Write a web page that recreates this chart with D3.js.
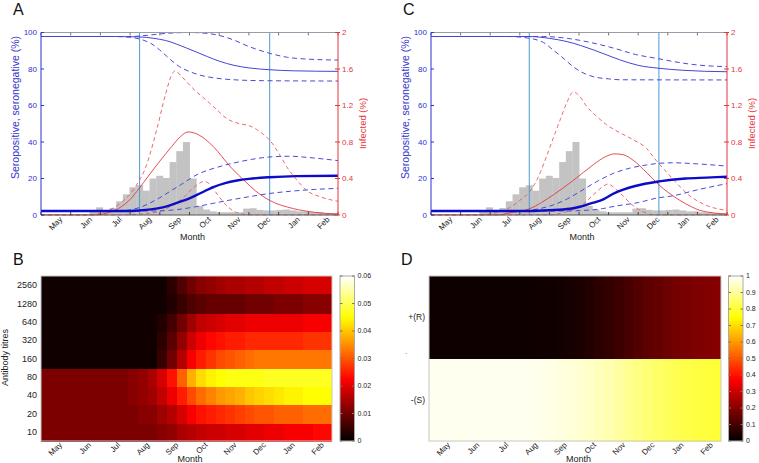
<!DOCTYPE html>
<html><head><meta charset="utf-8">
<script src="https://cdn.jsdelivr.net/npm/d3@7"></script>
<style>body{margin:0;background:#fff} text{font-family:"Liberation Sans",Arial,sans-serif}</style>
</head><body><svg id="c" width="759" height="463"></svg>
<script>
// ---------- DATA ----------
const months = ["May","Jun","Jul","Aug","Sep","Oct","Nov","Dec","Jan","Feb"];
const leftTicks = [0,20,40,60,80,100];
const rightTicks = [0,0.4,0.8,1.2,1.6,2];
const titreLabels = ["10","20","40","80","160","320","640","1280","2560"];
const cbTicksB = [0,0.01,0.02,0.03,0.04,0.05,0.06];
const cbTicksD = [0,0.1,0.2,0.3,0.4,0.5,0.6,0.7,0.8,0.9,1];
const serostatusLabels = ["-(S)","+(R)"];

// weekly reported cases (same scale as left axis), first week starts 1.63 months after 1 May
const caseFirstWeek = 1.63;
const weekLen = 0.225;
const weeklyCases = [2.5,4.2,2.5,3.8,7.5,11.3,15.2,16.3,13.3,20,21.5,20.3,29,35,40,20,5,3,2,1.5,1.5,1.5,1.5,3.5,3.7,2.8,2.5,2.5,2.8,3,2.5,2,2,1.5,1.5,1,1];

// sampling dates (months after 1 May)
const sampleDates = [3.32, 7.7];

// Panel A curves: [month, value]
const A_neg   = [[0,97.8],[2.5,97.8],[3.3,97.6],[3.8,96.8],[4.2,95.6],[4.9,91.5],[5.6,86.8],[6.0,84.3],[6.5,82.0],[7.0,80.6],[7.7,79.6],[8.5,79.0],[10,78.7]];
const A_negHi = [[0,97.8],[3.0,97.8],[3.6,98.5],[4.2,99.5],[5.0,100],[5.6,99.5],[6.2,97.5],[6.5,95.8],[7.0,92.3],[7.7,88.6],[8.3,86.4],[9.0,85.4],[10,84.9]];
const A_negLo = [[0,97.8],[2.5,97.8],[3.0,97.4],[3.3,96.5],[3.7,94],[4.0,90.4],[4.3,86],[4.66,81.3],[5.0,78.6],[5.34,76.7],[5.8,75.2],[6.5,74.1],[7.5,73.6],[10,73.4]];
const A_pos   = [[0,2.2],[2.8,2.2],[3.3,2.5],[3.7,3.1],[4.1,4.2],[4.6,6.8],[5.0,9.1],[5.4,12.2],[5.8,15.3],[6.2,17.5],[6.6,18.9],[7.0,19.8],[7.7,20.7],[8.6,21.3],[10,21.5]];
const A_posHi = [[0,2.2],[2.6,2.2],[3.0,2.8],[3.3,4],[3.6,6],[4.0,9.5],[4.4,13.5],[4.7,16.5],[5.3,22.5],[5.9,26],[6.5,28.5],[7.1,30.5],[7.7,31.8],[8.4,32.2],[9.0,31.5],[10,29.8]];
const A_posLo = [[0,2.2],[3.8,2.2],[4.6,3.0],[5.2,4.5],[5.8,6.4],[6.4,8.3],[7.0,10.0],[7.7,11.8],[8.4,13.0],[9.2,14.0],[10,14.6]];
const A_inf   = [[0,0],[1.8,0],[2.2,0.02],[2.6,0.07],[3.0,0.17],[3.3,0.29],[3.6,0.42],[4.0,0.59],[4.4,0.75],[4.7,0.86],[4.95,0.91],[5.3,0.88],[5.8,0.75],[6.4,0.52],[6.9,0.36],[7.2,0.27],[7.7,0.16],[8.5,0.07],[9.2,0.03],[10,0.01]];
const A_infHi = [[0,0],[1.7,0],[2.0,0.02],[2.4,0.07],[2.75,0.15],[3.05,0.25],[3.31,0.38],[3.5,0.5],[3.7,0.7],[3.9,0.94],[4.2,1.33],[4.38,1.52],[4.52,1.58],[4.7,1.53],[4.9,1.46],[5.2,1.36],[5.56,1.26],[5.9,1.16],[6.24,1.06],[6.69,1.0],[7.0,0.98],[7.25,0.94],[7.5,0.88],[7.7,0.82],[8.0,0.68],[8.27,0.53],[8.6,0.39],[8.94,0.27],[9.4,0.2],[10,0.15]];
const A_infLo = [[0,0],[2.8,0],[3.5,0.015],[4.0,0.04],[4.4,0.1],[4.8,0.19],[5.1,0.29],[5.35,0.35],[5.5,0.37],[5.7,0.33],[5.95,0.22],[6.2,0.12],[6.5,0.04],[6.9,0.005],[7.2,0],[10,0]];

// Panel C curves
const C_neg   = [[0,97.8],[3.3,97.8],[4.0,96.8],[4.6,95],[5.5,90.4],[6.4,84.9],[7.0,82.0],[7.7,80.4],[8.5,79.3],[10,78.5]];
const C_negHi = [[0,97.8],[3.8,97.8],[4.6,96.8],[5.4,94.5],[6.2,91.3],[6.9,88.0],[7.7,85.6],[8.4,83.5],[9.0,82.2],[10,81.3]];
const C_negLo = [[0,97.8],[2.6,97.8],[3.34,96.8],[3.8,94.5],[4.13,90.4],[4.5,85.5],[4.8,81.3],[5.1,78.2],[5.48,75.8],[6.0,74.6],[6.4,74.1],[10,74]];
const C_pos   = [[0,2.2],[3.3,2.2],[4.0,2.6],[4.7,3.4],[5.03,4.5],[5.5,6.8],[5.82,8.6],[6.2,12],[6.9,15.9],[7.7,18.4],[8.6,20],[9.3,20.5],[10,21]];
const C_posHi = [[0,2.2],[3.0,2.2],[3.34,2.6],[3.7,3.6],[4.13,5.5],[4.6,8.8],[5.03,12.8],[5.6,18.3],[6.16,22.8],[6.7,25.6],[7.28,27.4],[7.7,28.3],[8.18,28.6],[9.0,28],[10,26.8]];
const C_posLo = [[0,2.2],[4.6,2.2],[5.0,2.4],[5.8,3.5],[6.2,4.8],[7.0,6.8],[7.7,9.5],[8.1,10.3],[9.0,13.8],[10,17.2]];
const C_inf   = [[0,0],[2.3,0],[2.6,0.02],[3.34,0.07],[4.13,0.22],[4.81,0.38],[5.48,0.55],[5.9,0.64],[6.21,0.67],[6.5,0.66],[6.83,0.6],[7.3,0.46],[7.7,0.33],[8.0,0.25],[8.41,0.16],[8.8,0.09],[9.09,0.05],[10,0.01]];
const C_infHi = [[0,0],[1.8,0],[2.1,0.02],[2.6,0.07],[3.0,0.16],[3.34,0.26],[3.6,0.4],[3.9,0.64],[4.15,0.86],[4.36,1.04],[4.6,1.24],[4.81,1.35],[5.0,1.31],[5.26,1.19],[5.6,1.08],[5.93,0.99],[6.39,0.9],[6.8,0.83],[7.28,0.73],[7.6,0.6],[7.96,0.47],[8.3,0.35],[8.63,0.24],[9.2,0.12],[10,0.05]];
const C_infLo = [[0,0],[4.0,0],[4.5,0.03],[5.03,0.09],[5.48,0.22],[5.8,0.31],[5.98,0.34],[6.15,0.31],[6.39,0.24],[6.8,0.11],[7.28,0.02],[7.6,0],[10,0]];

// Panel B: titre distribution, 30 columns (thirds of months), rows by titre
const B_10   = [0.011,0.011,0.011,0.011,0.011,0.011,0.011,0.011,0.011,0.011,0.011,0.011,0.012,0.013,0.015,0.016,0.017,0.018,0.018,0.019,0.019,0.020,0.020,0.021,0.021,0.022,0.022,0.022,0.023,0.023];
const B_20   = [0.011,0.011,0.011,0.011,0.011,0.011,0.011,0.011,0.011,0.011,0.012,0.012,0.014,0.016,0.019,0.022,0.024,0.025,0.026,0.027,0.028,0.029,0.030,0.030,0.031,0.031,0.031,0.032,0.032,0.032];
const B_40   = [0.011,0.011,0.011,0.011,0.011,0.011,0.011,0.011,0.011,0.012,0.013,0.014,0.017,0.021,0.025,0.029,0.032,0.034,0.036,0.037,0.038,0.040,0.041,0.042,0.043,0.044,0.044,0.045,0.045,0.045];
const B_80   = [0.011,0.011,0.011,0.011,0.011,0.011,0.011,0.011,0.011,0.012,0.013,0.015,0.019,0.024,0.031,0.038,0.042,0.044,0.045,0.046,0.046,0.046,0.046,0.047,0.047,0.047,0.047,0.047,0.047,0.047];
const B_160  = [0.0015,0.0015,0.0015,0.0015,0.0015,0.0015,0.0015,0.0015,0.0015,0.0015,0.0015,0.0015,0.005,0.010,0.016,0.022,0.025,0.027,0.029,0.030,0.031,0.032,0.033,0.033,0.033,0.033,0.033,0.033,0.033,0.033];
const B_320  = [0.0015,0.0015,0.0015,0.0015,0.0015,0.0015,0.0015,0.0015,0.0015,0.0015,0.0015,0.0015,0.004,0.008,0.013,0.018,0.021,0.023,0.024,0.025,0.025,0.026,0.026,0.026,0.026,0.026,0.026,0.027,0.027,0.027];
const B_640  = [0.0015,0.0015,0.0015,0.0015,0.0015,0.0015,0.0015,0.0015,0.0015,0.0015,0.0015,0.0015,0.003,0.006,0.010,0.014,0.017,0.018,0.019,0.020,0.020,0.021,0.021,0.021,0.021,0.021,0.021,0.022,0.022,0.022];
const B_1280 = [0.0015,0.0015,0.0015,0.0015,0.0015,0.0015,0.0015,0.0015,0.0015,0.0015,0.0015,0.0015,0.0015,0.003,0.005,0.007,0.008,0.009,0.009,0.009,0.009,0.010,0.010,0.010,0.011,0.011,0.011,0.012,0.012,0.012];
const B_2560 = [0.0015,0.0015,0.0015,0.0015,0.0015,0.0015,0.0015,0.0015,0.0015,0.0015,0.0015,0.0015,0.0015,0.004,0.007,0.010,0.012,0.013,0.014,0.015,0.015,0.016,0.016,0.017,0.017,0.018,0.018,0.019,0.019,0.019];

// Panel D: proportion seropositive (R) and seronegative (S), 30 columns
const D_pos = [0.022,0.022,0.022,0.022,0.022,0.022,0.022,0.022,0.022,0.022,0.022,0.023,0.025,0.028,0.033,0.040,0.050,0.062,0.075,0.090,0.105,0.120,0.135,0.148,0.160,0.170,0.178,0.185,0.190,0.195];
const D_neg = [0.985,0.985,0.985,0.985,0.985,0.985,0.985,0.985,0.985,0.984,0.982,0.979,0.975,0.970,0.963,0.955,0.945,0.934,0.922,0.908,0.893,0.878,0.864,0.851,0.840,0.830,0.822,0.815,0.810,0.805];

// ---------- DRAWING ----------
const svg = d3.select("#c");
const BLUE = "#2f2fd0", RED = "#e5353a", VL = "#4b9cd0";

function hot(t){
  t = Math.max(0, Math.min(1, t));
  const r = Math.min(1, t/0.375), g = Math.max(0, Math.min(1, (t-0.375)/0.375)), b = Math.max(0, Math.min(1,(t-0.75)/0.25));
  return d3.rgb(r*255, g*255, b*255).toString();
}

function topPanel(letter, x0, x1, cv, clipId){
  const yTop = 32.5, yBot = 215;
  const x = d3.scaleLinear().domain([0,10]).range([x0,x1]);
  const yL = d3.scaleLinear().domain([0,100]).range([yBot,yTop]);
  const yR = d3.scaleLinear().domain([0,2]).range([yBot,yTop]);
  const g = svg.append("g");
  svg.append("clipPath").attr("id",clipId).append("rect").attr("x",x0).attr("y",yTop-1).attr("width",x1-x0).attr("height",yBot-yTop+1.5);
  const pg = g.append("g").attr("clip-path",`url(#${clipId})`);
  pg.selectAll("rect.bar").data(weeklyCases).join("rect")
    .attr("x",(d,i)=>x(caseFirstWeek+i*weekLen))
    .attr("width",x(weekLen)-x(0)+0.3)
    .attr("y",d=>yL(d)).attr("height",d=>yBot-yL(d))
    .attr("fill","#c3c3c3");
  g.append("line").attr("x1",x0).attr("x2",x1).attr("y1",yTop).attr("y2",yTop).attr("stroke","#9a9aa8").attr("stroke-width",1);
  g.append("line").attr("x1",x0).attr("x2",x1).attr("y1",yBot).attr("y2",yBot).attr("stroke","#555").attr("stroke-width",1);
  d3.range(0,11).forEach(m=>{
    g.append("line").attr("x1",x(m)).attr("x2",x(m)).attr("y1",yBot).attr("y2",yBot-3).attr("stroke","#444");
    g.append("line").attr("x1",x(m)).attr("x2",x(m)).attr("y1",yTop).attr("y2",yTop+3).attr("stroke","#777");
  });
  sampleDates.forEach(d=>{
    pg.append("line").attr("x1",x(d)).attr("x2",x(d)).attr("y1",yTop).attr("y2",yBot).attr("stroke",VL).attr("stroke-width",1);
  });
  const lineL = d3.line().x(d=>x(d[0])).y(d=>yL(d[1])).curve(d3.curveMonotoneX);
  const lineR = d3.line().x(d=>x(d[0])).y(d=>yR(d[1])).curve(d3.curveMonotoneX);
  const dashB = "5,3.5", dashR = "4,3";
  pg.append("path").attr("d",lineR(cv.infHi)).attr("fill","none").attr("stroke","#e85a5e").attr("stroke-width",0.9).attr("stroke-dasharray",dashR);
  pg.append("path").attr("d",lineR(cv.infLo)).attr("fill","none").attr("stroke","#e85a5e").attr("stroke-width",0.9).attr("stroke-dasharray",dashR);
  pg.append("path").attr("d",lineR(cv.inf)).attr("fill","none").attr("stroke","#e23a3f").attr("stroke-width",0.9);
  [cv.negHi,cv.negLo,cv.posHi,cv.posLo].forEach(s=>{
    pg.append("path").attr("d",lineL(s)).attr("fill","none").attr("stroke","#4a4ad8").attr("stroke-width",1).attr("stroke-dasharray",dashB);
  });
  pg.append("path").attr("d",lineL(cv.neg)).attr("fill","none").attr("stroke","#4444d6").attr("stroke-width",1);
  pg.append("path").attr("d",lineL(cv.pos)).attr("fill","none").attr("stroke","#0c0cc8").attr("stroke-width",2.4);
  g.append("line").attr("x1",x0).attr("x2",x0).attr("y1",yTop).attr("y2",yBot).attr("stroke",BLUE).attr("stroke-width",1);
  leftTicks.forEach(t=>{
    g.append("line").attr("x1",x0).attr("x2",x0+3).attr("y1",yL(t)).attr("y2",yL(t)).attr("stroke",BLUE);
    g.append("text").attr("x",x0-4).attr("y",yL(t)).attr("dy","0.35em").attr("text-anchor","end").attr("font-size",8).attr("fill",BLUE).text(t);
  });
  g.append("line").attr("x1",x1).attr("x2",x1).attr("y1",yTop).attr("y2",yBot).attr("stroke",RED).attr("stroke-width",1);
  rightTicks.forEach(t=>{
    g.append("line").attr("x1",x1-3).attr("x2",x1+2).attr("y1",yR(t)).attr("y2",yR(t)).attr("stroke",RED);
    g.append("text").attr("x",x1+4).attr("y",yR(t)).attr("dy","0.35em").attr("font-size",8).attr("fill",RED).text(t);
  });
  months.forEach((mn,i)=>{
    const ax = x(i+0.5)+5, ay = yBot+3;
    g.append("text").attr("transform",`translate(${ax},${ay}) rotate(-45)`).attr("text-anchor","end").attr("dy","0.35em").attr("font-size",8).attr("fill","#222").text(mn);
  });
  g.append("text").attr("x",(x0+x1)/2+3).attr("y",239.5).attr("text-anchor","middle").attr("font-size",9).attr("fill","#222").text("Month");
  g.append("text").attr("transform",`translate(${x0-22.5},107.5) rotate(-90)`).attr("text-anchor","middle").attr("font-size",10.5).attr("fill","#3535cc").text("Seropositive, seronegative (%)");
  g.append("text").attr("transform",`translate(${x1+28},123.5) rotate(-90)`).attr("text-anchor","middle").attr("font-size",9.5).attr("fill",RED).text("Infected (%)");
  g.append("text").attr("x",x0-28).attr("y",15).attr("font-size",16).attr("fill","#111").text(letter);
}

topPanel("A",41,338,{neg:A_neg,negHi:A_negHi,negLo:A_negLo,pos:A_pos,posHi:A_posHi,posLo:A_posLo,inf:A_inf,infHi:A_infHi,infLo:A_infLo},"clipA");
topPanel("C",431,727,{neg:C_neg,negHi:C_negHi,negLo:C_negLo,pos:C_pos,posHi:C_posHi,posLo:C_posLo,inf:C_inf,infHi:C_infHi,infLo:C_infLo},"clipC");

function heatPanel(letter, x0, x1, rows, rowLabels, vmax, cbX, cbTicks, gradId, labelFont){
  const yTop = 276, yBot = 441;
  const g = svg.append("g");
  const nCol = rows[0].length;
  const x = d3.scaleLinear().domain([0,10]).range([x0,x1]);
  const col = d3.scaleLinear().domain([0,nCol]).range([0,10]);
  const y = d3.scaleBand().domain(d3.range(rows.length)).range([yBot,yTop]);
  const cells = g.append("g").attr("shape-rendering","crispEdges");
  rows.forEach((r,ri)=>{
    cells.selectAll(null).data(r).join("rect")
      .attr("x",(d,ci)=>x(col(ci)))
      .attr("width",(d,ci)=> ci===nCol-1 ? x(col(1))-x(0) : x(col(1))-x(0)+1)
      .attr("y",y(ri)).attr("height",y.bandwidth()+(ri===rows.length-1?0:1))
      .attr("fill",d=>hot(d/vmax));
  });
  g.append("rect").attr("x",x0).attr("y",yTop).attr("width",x1-x0).attr("height",yBot-yTop).attr("fill","none").attr("stroke","#c8c8c8").attr("stroke-width",1);
  rowLabels.forEach((l,ri)=>{
    g.append("text").attr("x",x0-4).attr("y",y(ri)+y.bandwidth()/2).attr("dy","0.35em").attr("text-anchor","end").attr("font-size",labelFont).attr("fill","#222").text(l);
  });
  months.forEach((mn,i)=>{
    const ax = x(i+0.5)+5, ay = yBot+2.5;
    g.append("text").attr("transform",`translate(${ax},${ay}) rotate(-45)`).attr("text-anchor","end").attr("dy","0.35em").attr("font-size",8).attr("fill","#222").text(mn);
  });
  g.append("text").attr("x",(x0+x1)/2+3.5).attr("y",462).attr("text-anchor","middle").attr("font-size",9).attr("fill","#222").text("Month");
  g.append("text").attr("x",x0-28).attr("y",265).attr("font-size",16).attr("fill","#111").text(letter);
  const cbW = 14.5;
  const grad = svg.append("defs").append("linearGradient").attr("id",gradId).attr("x1",0).attr("x2",0).attr("y1",1).attr("y2",0);
  d3.range(0,1.0001,0.02).forEach(t=>grad.append("stop").attr("offset",t).attr("stop-color",hot(t)));
  g.append("rect").attr("x",cbX).attr("y",yTop).attr("width",cbW).attr("height",yBot-yTop).attr("fill",`url(#${gradId})`).attr("stroke","#aaa").attr("stroke-width",1);
  const yc = d3.scaleLinear().domain([0,vmax]).range([yBot,yTop]);
  cbTicks.forEach(t=>{
    g.append("line").attr("x1",cbX+cbW-2.5).attr("x2",cbX+cbW).attr("y1",yc(t)).attr("y2",yc(t)).attr("stroke","#777");
    g.append("line").attr("x1",cbX).attr("x2",cbX+2.5).attr("y1",yc(t)).attr("y2",yc(t)).attr("stroke","#777");
    g.append("text").attr("x",cbX+cbW+3).attr("y",yc(t)).attr("dy","0.35em").attr("font-size",7).attr("fill","#222").text(t);
  });
  return g;
}

heatPanel("B",41,332,[B_10,B_20,B_40,B_80,B_160,B_320,B_640,B_1280,B_2560],titreLabels,0.06,340,cbTicksB,"gradB",9);
svg.append("text").attr("transform","translate(8,357.5) rotate(-90)").attr("text-anchor","middle").attr("font-size",9).attr("fill","#222").text("Antibody titres");

const gD = heatPanel("D",429,721,[D_neg,D_pos],serostatusLabels,1,728.5,cbTicksD,"gradD",8.5);
gD.append("text").attr("x",406).attr("y",354).attr("text-anchor","middle").attr("font-size",8).attr("fill","#555").text(".");
</script></body></html>
